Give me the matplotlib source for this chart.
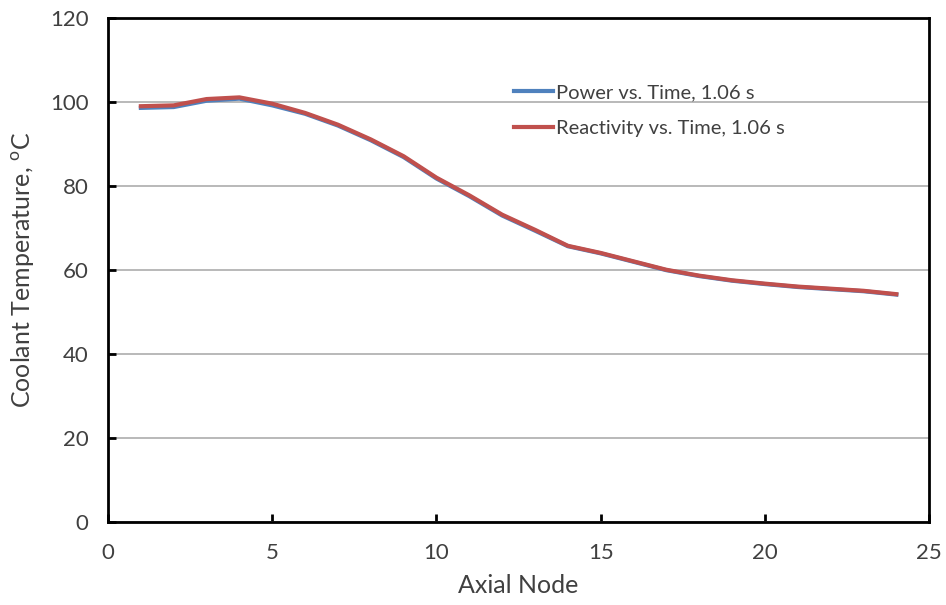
import matplotlib

matplotlib.use("Agg")
import matplotlib.pyplot as plt

plt.rcParams["font.family"] = ["Lato", "DejaVu Sans"]

# 轴向节点与冷却剂温度
nodes = list(range(1, 25))
power_temp = [98.6, 98.8, 100.3, 100.8, 99.2, 97.2, 94.4, 90.9, 86.9, 81.8, 77.6, 73.0,
              69.4, 65.7, 64.0, 62.0, 60.0, 58.6, 57.5, 56.7, 56.0, 55.5, 55.0, 54.2]
react_temp = [99.0, 99.2, 100.7, 101.1, 99.6, 97.4, 94.6, 91.1, 87.1, 82.0, 77.8, 73.2,
              69.6, 65.8, 64.1, 62.1, 60.1, 58.7, 57.6, 56.8, 56.1, 55.6, 55.1, 54.3]

labels = ["Power vs. Time, 1.06 s", "Reactivity vs. Time, 1.06 s"]
xticks = [0, 5, 10, 15, 20, 25]
yticks = [0, 20, 40, 60, 80, 100, 120]

txt = "#404040"

fig = plt.figure(figsize=(9.46, 6.05), dpi=100)
ax = fig.add_axes([0.1142, 0.1364, 0.868, 0.834])

ax.plot(nodes, power_temp, color="#4F81BD", linewidth=3, label=labels[0])
ax.plot(nodes, react_temp, color="#C0504D", linewidth=3, label=labels[1])

ax.set_xlim(0, 25)
ax.set_ylim(0, 120)
ax.set_xticks(xticks)
ax.set_yticks(yticks)
ax.yaxis.grid(True, color="#B3B3B3", linewidth=1.3)
ax.set_axisbelow(True)

for s in ax.spines.values():
    s.set_linewidth(2)
    s.set_color("black")

ax.tick_params(direction="in", length=6, width=2, labelsize=16, labelcolor=txt)
ax.tick_params(axis="x", pad=15)
ax.tick_params(axis="y", pad=14)
ax.set_xlabel("Axial Node", fontsize=18, color=txt, labelpad=8)
ax.set_ylabel(r"Coolant Temperature, $^\mathregular{o}$C", fontsize=18, color=txt, labelpad=10)

leg = ax.legend(loc="upper left", bbox_to_anchor=(0.472, 0.905), frameon=False,
                fontsize=14.5, handlelength=1.95, handletextpad=0.15, labelspacing=0.95)
for t in leg.get_texts():
    t.set_color(txt)

fig.savefig("out.png", dpi=100)
plt.close(fig)
